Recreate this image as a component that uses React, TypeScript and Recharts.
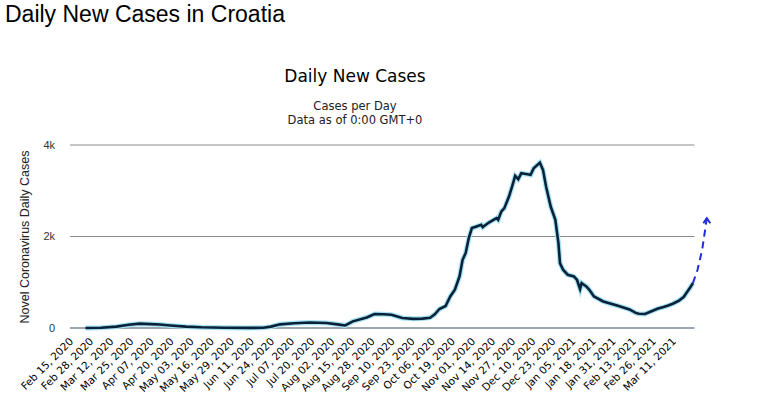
import { LineChart, Line, XAxis, YAxis, ReferenceLine } from 'recharts'

// x positions are days since Feb 15, 2020
const tickLabels = [
  'Feb 15, 2020', 'Feb 28, 2020', 'Mar 12, 2020', 'Mar 25, 2020', 'Apr 07, 2020', 'Apr 20, 2020',
  'May 03, 2020', 'May 16, 2020', 'May 29, 2020', 'Jun 11, 2020', 'Jun 24, 2020', 'Jul 07, 2020',
  'Jul 20, 2020', 'Aug 02, 2020', 'Aug 15, 2020', 'Aug 28, 2020', 'Sep 10, 2020', 'Sep 23, 2020',
  'Oct 06, 2020', 'Oct 19, 2020', 'Nov 01, 2020', 'Nov 14, 2020', 'Nov 27, 2020', 'Dec 10, 2020',
  'Dec 23, 2020', 'Jan 05, 2021', 'Jan 18, 2021', 'Jan 31, 2021', 'Feb 13, 2021', 'Feb 26, 2021',
  'Mar 11, 2021',
]
const tickDays = tickLabels.map((_, i) => i * 13)

const caseDays = [
  10, 20, 30, 38, 45, 52, 58, 65, 75, 85, 100, 115, 125, 130, 136, 145, 155, 166, 173, 178,
  183, 192, 197, 203, 208, 215, 222, 228, 233, 236, 239, 243, 246, 249, 252, 254, 256, 258, 260, 263,
  266, 267, 271, 274, 276, 277, 279, 281, 284, 286, 288, 290, 292, 295, 298, 300, 304, 306, 308, 311,
  314, 316, 317, 319, 322, 326, 328, 330, 331, 334, 336, 339, 345, 350, 354, 358, 362, 366, 368, 372,
  377, 380, 384, 387, 390, 394, 397, 401, 403,
]
const dailyCases = [
  0, 5, 30, 70, 95, 85, 75, 55, 30, 15, 5, 2, 5, 30, 80, 105, 120, 110, 80, 55,
  145, 230, 305, 300, 290, 220, 200, 205, 225, 300, 415, 480, 690, 836, 1126, 1490, 1640, 1965, 2183, 2218,
  2255, 2205, 2305, 2364, 2401, 2364, 2545, 2620, 2873, 3091, 3325, 3253, 3384, 3368, 3347, 3493, 3615, 3456, 3091, 2655,
  2364, 1856, 1419, 1273, 1164, 1127, 1054, 851, 982, 908, 836, 690, 581, 530, 490, 450, 405, 330, 312, 306,
  378, 420, 458, 490, 530, 600, 677, 873, 982,
]

const projectionDays = [403, 406, 409, 412]
const projectionCases = [982, 1273, 1710, 2400]

const series = caseDays.map((day, i) => ({ day, cases: dailyCases[i] }))
const projection = projectionDays.map((day, i) => ({ day, cases: projectionCases[i] }))
const lastDay = 404

const DateTick = ({ x, y, payload }: any) => {
  const label = tickLabels[Math.round(payload.value / 13)]
  const tx = x + 4
  const ty = y + 6
  return (
    <text
      x={tx}
      y={ty}
      transform={`rotate(-45, ${tx}, ${ty})`}
      textAnchor="end"
      fontFamily="DejaVu Sans"
      fontSize={10.5}
      fill="#000"
    >
      {label}
    </text>
  )
}

const ArrowDot = ({ cx, cy, index }: any) => {
  if (index !== projection.length - 1) return <g key={`p-${index}`} />
  return (
    <path
      key={`p-${index}`}
      d={`M${cx - 3.5},${cy + 5} L${cx},${cy} L${cx + 3.5},${cy + 5}`}
      stroke="#1f2bd8"
      strokeWidth={2}
      fill="none"
    />
  )
}

export default function App() {
  return (
    <div style={{ position: 'absolute', left: 0, top: 0, width: 763, height: 400, background: '#fff' }}>
      <LineChart width={763} height={400} data={series} margin={{ top: 145, right: 50, bottom: 0, left: 0 }}>
        <XAxis
          type="number"
          dataKey="day"
          domain={[0, 416]}
          ticks={tickDays}
          interval={0}
          height={72}
          axisLine={false}
          tickLine={false}
          tick={<DateTick />}
        />
        <YAxis
          domain={[0, 4000]}
          ticks={[0, 2000, 4000]}
          width={70}
          axisLine={false}
          tickLine={false}
          tickMargin={9}
          tickFormatter={(v: number) => (v === 0 ? '0' : `${v / 1000}k`)}
          tick={{ fontFamily: 'Liberation Sans', fontSize: 11, fill: '#333' }}
        />
        <ReferenceLine segment={[{ x: 0, y: 2000 }, { x: lastDay, y: 2000 }]} stroke="#8a8a8a" strokeWidth={1} />
        <ReferenceLine segment={[{ x: 0, y: 4000 }, { x: lastDay, y: 4000 }]} stroke="#8a8a8a" strokeWidth={1} />
        <ReferenceLine segment={[{ x: 0, y: 0 }, { x: lastDay, y: 0 }]} stroke="#3a4a5c" strokeWidth={1} />
        <Line
          data={series}
          dataKey="cases"
          type="linear"
          stroke="#a6e2f3"
          strokeWidth={5}
          dot={false}
          activeDot={false}
          isAnimationActive={false}
        />
        <Line
          data={series}
          dataKey="cases"
          type="linear"
          stroke="#0a2239"
          strokeWidth={2.6}
          dot={false}
          activeDot={false}
          isAnimationActive={false}
        />
        <Line
          data={projection}
          dataKey="cases"
          type="linear"
          stroke="#1f2bd8"
          strokeWidth={2}
          strokeDasharray="7 5"
          dot={ArrowDot}
          activeDot={false}
          isAnimationActive={false}
        />
      </LineChart>
      <svg width={763} height={400} style={{ position: 'absolute', left: 0, top: 0, pointerEvents: 'none' }}>
        <text x={5} y={22} fontFamily="Liberation Sans" fontSize={23} fill="#000">
          Daily New Cases in Croatia
        </text>
        <text x={355} y={82} textAnchor="middle" fontFamily="DejaVu Sans" fontSize={17} fill="#000">
          Daily New Cases
        </text>
        <text x={355} y={110} textAnchor="middle" fontFamily="DejaVu Sans" fontSize={11.5} fill="#222">
          Cases per Day
        </text>
        <text x={355} y={124} textAnchor="middle" fontFamily="DejaVu Sans" fontSize={11.5} fill="#222">
          Data as of 0:00 GMT+0
        </text>
        <text
          x={29}
          y={237}
          transform="rotate(-90, 29, 237)"
          textAnchor="middle"
          fontFamily="Liberation Sans"
          fontSize={12.5}
          fill="#222"
        >
          Novel Coronavirus Daily Cases
        </text>
      </svg>
    </div>
  )
}
